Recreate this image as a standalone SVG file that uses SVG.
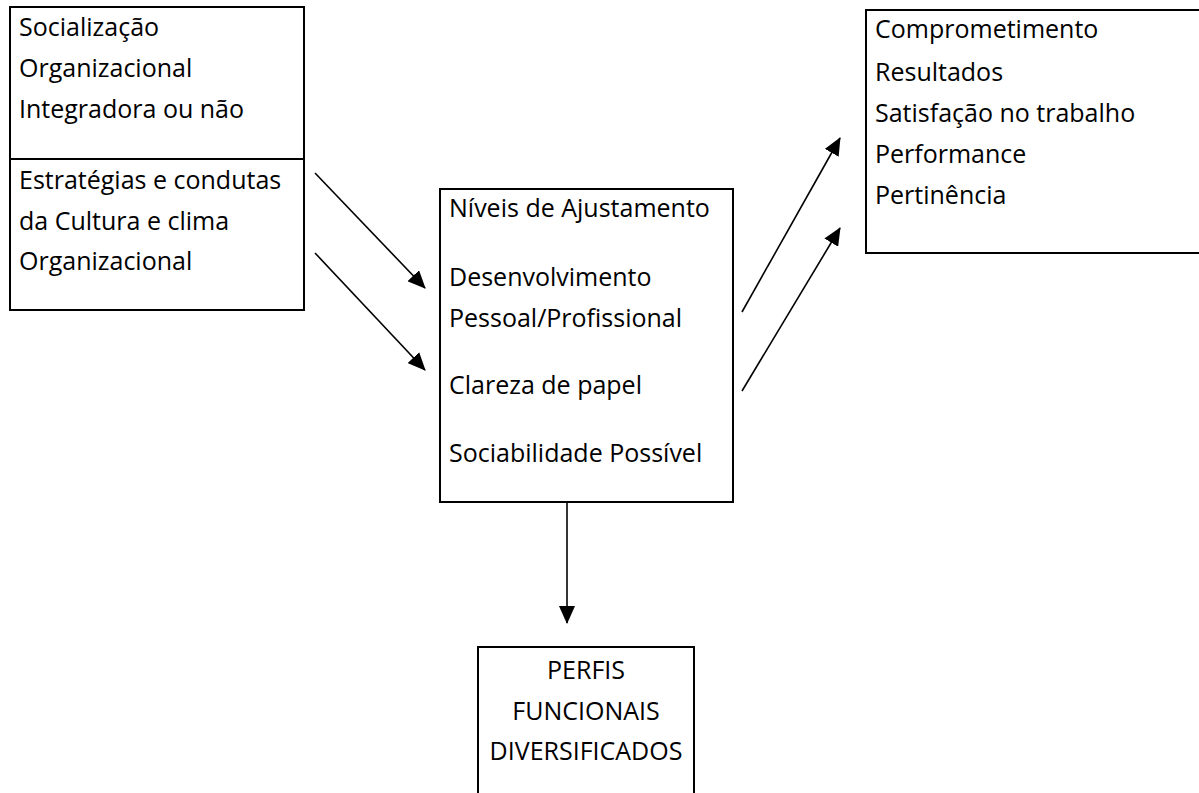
<svg xmlns="http://www.w3.org/2000/svg" width="1199" height="793" viewBox="0 0 1199 793">
<style>
.box{fill:#fff;stroke:#000;stroke-width:2}
.t{font-family:"Open Sans","Liberation Sans",sans-serif;font-size:25px;fill:#000}
.c{text-anchor:middle}
.ln{stroke:#000;stroke-width:1.6;fill:none}
</style>
<defs>
<marker id="ahb" markerWidth="18" markerHeight="16" refX="17" refY="8" orient="auto" markerUnits="userSpaceOnUse" viewBox="0 0 18 16">
<path d="M0,0 L18,8 L0,16 Z" fill="#000"/>
</marker>
</defs>
<rect width="1199" height="793" fill="#fff"/>
<g id="socializacao">
<rect class="box" x="10" y="7" width="294" height="152"/>
<text class="t" x="19" y="36">Socialização</text>
<text class="t" x="19" y="77">Organizacional</text>
<text class="t" x="19" y="118">Integradora ou não</text>
</g>
<g id="estrategias">
<rect class="box" x="10" y="159" width="294" height="151"/>
<text class="t" x="19" y="189">Estratégias e condutas</text>
<text class="t" x="19" y="230">da Cultura e clima</text>
<text class="t" x="19" y="270">Organizacional</text>
</g>
<g id="niveis">
<rect class="box" x="440" y="189" width="293" height="313"/>
<text class="t" x="449" y="217">Níveis de Ajustamento</text>
<text class="t" x="449" y="286">Desenvolvimento</text>
<text class="t" x="449" y="327">Pessoal/Profissional</text>
<text class="t" x="449" y="394">Clareza de papel</text>
<text class="t" x="449" y="462">Sociabilidade Possível</text>
</g>
<g id="resultados">
<path class="box" d="M1200,10 L866,10 L866,253 L1200,253"/>
<text class="t" x="875" y="38">Comprometimento</text>
<text class="t" x="875" y="81">Resultados</text>
<text class="t" x="875" y="122">Satisfação no trabalho</text>
<text class="t" x="875" y="163">Performance</text>
<text class="t" x="875" y="204">Pertinência</text>
</g>
<g id="perfis">
<path class="box" d="M478,800 L478,647 L694,647 L694,800"/>
<text class="t c" x="586" y="679">PERFIS</text>
<text class="t c" x="586" y="720">FUNCIONAIS</text>
<text class="t c" x="586" y="760">DIVERSIFICADOS</text>
</g>
<g id="connectors">
<line class="ln" x1="315" y1="173" x2="425" y2="288" marker-end="url(#ahb)"/>
<line class="ln" x1="315" y1="253" x2="425" y2="370" marker-end="url(#ahb)"/>
<line class="ln" x1="742" y1="312" x2="840" y2="138" marker-end="url(#ahb)"/>
<line class="ln" x1="742" y1="391" x2="840" y2="228" marker-end="url(#ahb)"/>
<line class="ln" x1="567" y1="502" x2="567" y2="623" marker-end="url(#ahb)"/>
</g>
</svg>
